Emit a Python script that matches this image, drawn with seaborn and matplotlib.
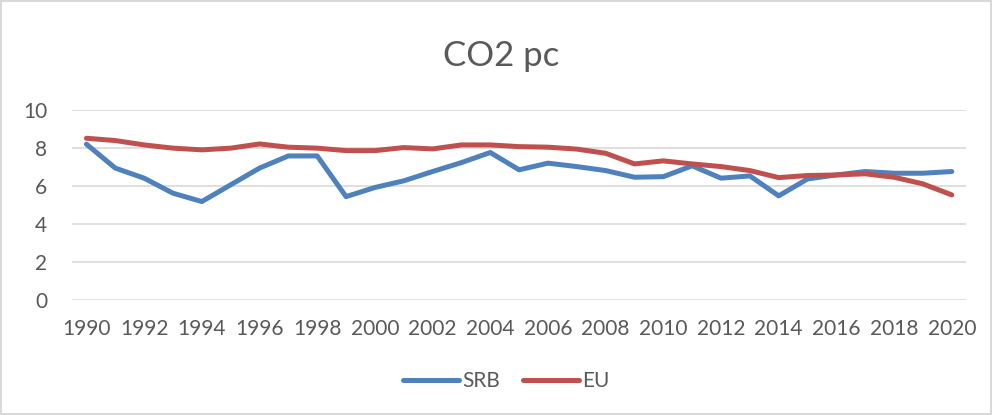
import numpy as np
import pandas as pd
import matplotlib.pyplot as plt
import seaborn as sns

# data
years = list(range(1990, 2021))
srb = [8.18, 6.92, 6.39, 5.60, 5.16, 6.04, 6.92, 7.56, 7.56, 5.42,
       5.90, 6.25, 6.74, 7.21, 7.74, 6.83, 7.18, 7.00, 6.79, 6.44,
       6.47, 7.04, 6.39, 6.51, 5.46, 6.35, 6.56, 6.74, 6.65, 6.65, 6.74]
eu = [8.49, 8.37, 8.14, 7.97, 7.88, 7.97, 8.19, 8.02, 7.97, 7.84,
      7.84, 8.00, 7.93, 8.14, 8.14, 8.05, 8.02, 7.92, 7.70, 7.14,
      7.30, 7.14, 7.00, 6.79, 6.42, 6.53, 6.56, 6.62, 6.44, 6.09, 5.51]
y_ticks = [0, 2, 4, 6, 8, 10]

df = pd.DataFrame({"year": years * 2,
                   "value": srb + eu,
                   "series": ["SRB"] * len(years) + ["EU"] * len(years)})

sns.set_style("white")
plt.rcParams['font.family'] = ['Lato', 'DejaVu Sans']

fig = plt.figure(figsize=(9.92, 4.15), dpi=100)
fig.patch.set_edgecolor("#d9d9d9")
fig.patch.set_linewidth(1.5)
ax = fig.add_axes([0.0726, 0.278, 0.9014, 0.458])

sns.lineplot(data=df, x="year", y="value", hue="series",
             palette={"SRB": "#4f81bd", "EU": "#c0504d"},
             linewidth=3.6, ax=ax, legend=False)

ax.set_xlim(1989.5, 2020.5)
ax.set_ylim(0, 10)
ax.set_yticks(y_ticks)
ax.set_xticks(years[::2])
ax.yaxis.grid(True, color="#d9d9d9", linewidth=1.2)
ax.set_axisbelow(True)
for s in ax.spines.values():
    s.set_visible(False)
ax.tick_params(axis="both", length=0, labelsize=15, labelcolor="#595959")
ax.tick_params(axis="x", pad=14)
ax.tick_params(axis="y", pad=18)
ax.set_xlabel("")
ax.set_ylabel("")

fig.text(0.505, 0.865, "CO2 pc", ha="center", va="center", fontsize=25, color="#595959")

handles = [plt.Line2D([], [], color="#4f81bd", linewidth=3.6),
           plt.Line2D([], [], color="#c0504d", linewidth=3.6)]
fig.legend(handles, ["SRB", "EU"], loc="center", bbox_to_anchor=(0.51, 0.082),
           ncol=2, frameon=False, fontsize=15, labelcolor="#595959",
           handlelength=2.7, handletextpad=0.15, columnspacing=1.1)

fig.savefig("out.png", dpi=100)
